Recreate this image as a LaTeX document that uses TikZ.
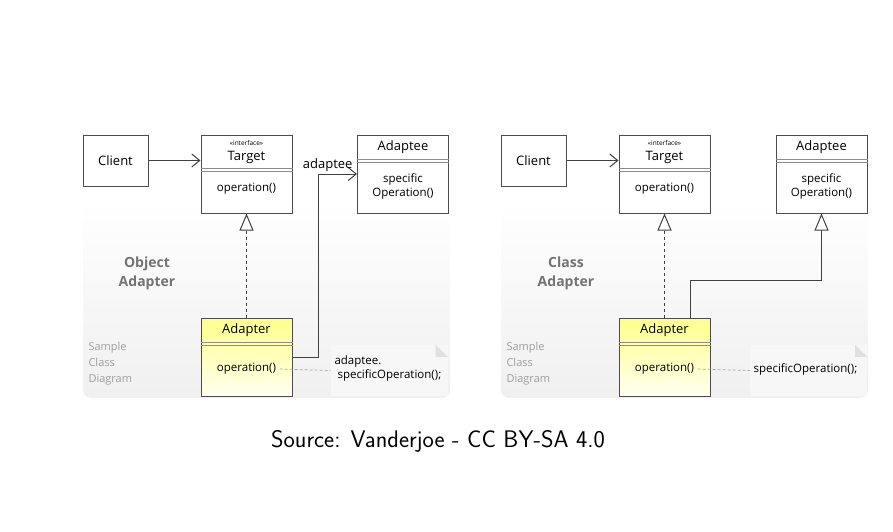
\documentclass[tikz,border=0pt]{standalone}
\usepackage{fontspec}
\newfontfamily\umlfont{Open Sans}
\usetikzlibrary{arrows.meta,positioning}

\newcommand\umlbig{\umlfont\fontsize{13}{15}\selectfont}
\newcommand\umlsmall{\umlfont\fontsize{11.5}{14}\selectfont}
\newcommand\umltiny{\umlfont\fontsize{6.5}{7}\selectfont}

\begin{document}
\begin{tikzpicture}[x=1pt,y=-1pt,
  class box/.style={draw=black!70,line width=1pt,fill=white,inner sep=0pt,minimum width=91pt,minimum height=78pt},
  adapter box/.style={class box,top color=yellow!45!white,bottom color=yellow!6!white},
  divider/.style={draw=black!45,line width=0.6pt},
  uses/.style={draw=black!75,line width=1pt,-{Straight Barb[length=8pt,width=13pt]}},
  realizes/.style={draw=black!75,line width=1pt,dashed,-{Triangle[open,length=17pt,width=14pt,fill=white]}},
  extends/.style={draw=black!75,line width=1pt,-{Triangle[open,length=17pt,width=14pt,fill=white]}},
  note link/.style={draw=black!35,line width=0.7pt,dash pattern=on 3pt off 2pt},
  note box/.style={fill=black!3,inner sep=0pt,minimum width=117pt,minimum height=51pt},
  title text/.style={align=center,text=black!55,font=\umlfont\bfseries\fontsize{14}{19}\selectfont},
  sample text/.style={anchor=west,align=left,text=black!38,font=\umlfont\fontsize{11}{16}\selectfont}]

  \useasboundingbox (0,0) rectangle (893,531);

  % faint panels
  \shade[top color=white,bottom color=black!6,rounded corners=8] (83,200) rectangle (450,398);
  \shade[top color=white,bottom color=black!6,rounded corners=8] (501,200) rectangle (868,398);

  % object adapter
  \node[class box,minimum width=65pt,minimum height=51pt,font=\umlbig] (clientL) at (115.5,160.5) {Client};
  \node[class box] (tgtL) at (246.5,174) {};
  \node[class box] (adtL) at (403,174) {};
  \node[adapter box] (adL) at (246.5,357.5) {};
  \node[note box] (noteL) at (389,370.5) {};
  \fill[black!12] (noteL.north east) ++(-12,0) -- ++(12,12) -- ++(-12,0) -- cycle;

  \node[font=\umltiny] at (246.5,143) {«interface»};
  \node[font=\umlbig] at (246.5,157) {Target};
  \node[font=\umlsmall] at (246.5,189) {operation()};
  \node[font=\umlbig] at (403,147) {Adaptee};
  \node[align=center,font=\umlsmall] at (403,186.5) {specific\\Operation()};
  \node[font=\umlbig] at (246.5,330) {Adapter};
  \node[font=\umlsmall] (opL) at (246.5,369) {operation()};
  \node[anchor=west,align=left,font=\umlsmall] (txtL) at (331,369) {adaptee.\\\ specificOperation();};

  % class adapter
  \node[class box,minimum width=65pt,minimum height=51pt,font=\umlbig] (clientR) at (533.5,160.5) {Client};
  \node[class box] (tgtR) at (664.5,174) {};
  \node[class box] (adtR) at (821.5,174) {};
  \node[adapter box] (adR) at (664.5,357.5) {};
  \node[note box] (noteR) at (808.5,370.5) {};
  \fill[black!12] (noteR.north east) ++(-12,0) -- ++(12,12) -- ++(-12,0) -- cycle;

  \node[font=\umltiny] at (664.5,143) {«interface»};
  \node[font=\umlbig] at (664.5,157) {Target};
  \node[font=\umlsmall] at (664.5,189) {operation()};
  \node[font=\umlbig] at (821.5,147) {Adaptee};
  \node[align=center,font=\umlsmall] at (821.5,186.5) {specific\\Operation()};
  \node[font=\umlbig] at (664.5,330) {Adapter};
  \node[font=\umlsmall] (opR) at (664.5,369) {operation()};
  \node[anchor=west,font=\umlsmall] (txtR) at (750,369) {specificOperation();};

  \foreach \n/\y in {tgtL/168,adtL/159,adL/342,tgtR/168,adtR/159,adR/342} {
    \draw[divider] (\n.west |- 0,\y) -- (\n.east |- 0,\y);
    \draw[divider] (\n.west |- 0,\y+3) -- (\n.east |- 0,\y+3);
  }

  % connectors
  \draw[uses] (clientL.east) -- (clientL.east -| tgtL.west);
  \draw[realizes] (adL.north) -- (tgtL.south);
  \draw[uses] (adL.east) -- ++(26,0) |- (adtL.west)
    node[pos=0.62,above=1pt,inner sep=1pt,font=\umlbig] {adaptee};
  \draw[note link] (opL.east) -- (noteL.west);

  \draw[uses] (clientR.east) -- (clientR.east -| tgtR.west);
  \draw[realizes] (adR.north) -- (tgtR.south);
  \draw[extends] ([xshift=26pt]adR.north) -- ++(0,-38) -| (adtR.south);
  \draw[note link] (opR.east) -- (noteR.west);

  % titles
  \node[title text] at (147,273) {Object\\Adapter};
  \node[title text] at (566,273) {Class\\Adapter};
  \node[sample text] at (85,364) {Sample\\Class\\Diagram};
  \node[sample text] at (503,364) {Sample\\Class\\Diagram};

  \node[font=\sffamily\fontsize{24}{28}\selectfont] (src) at (438,441) {Source: Vanderjoe - CC BY-SA 4.0};
\end{tikzpicture}
\end{document}
